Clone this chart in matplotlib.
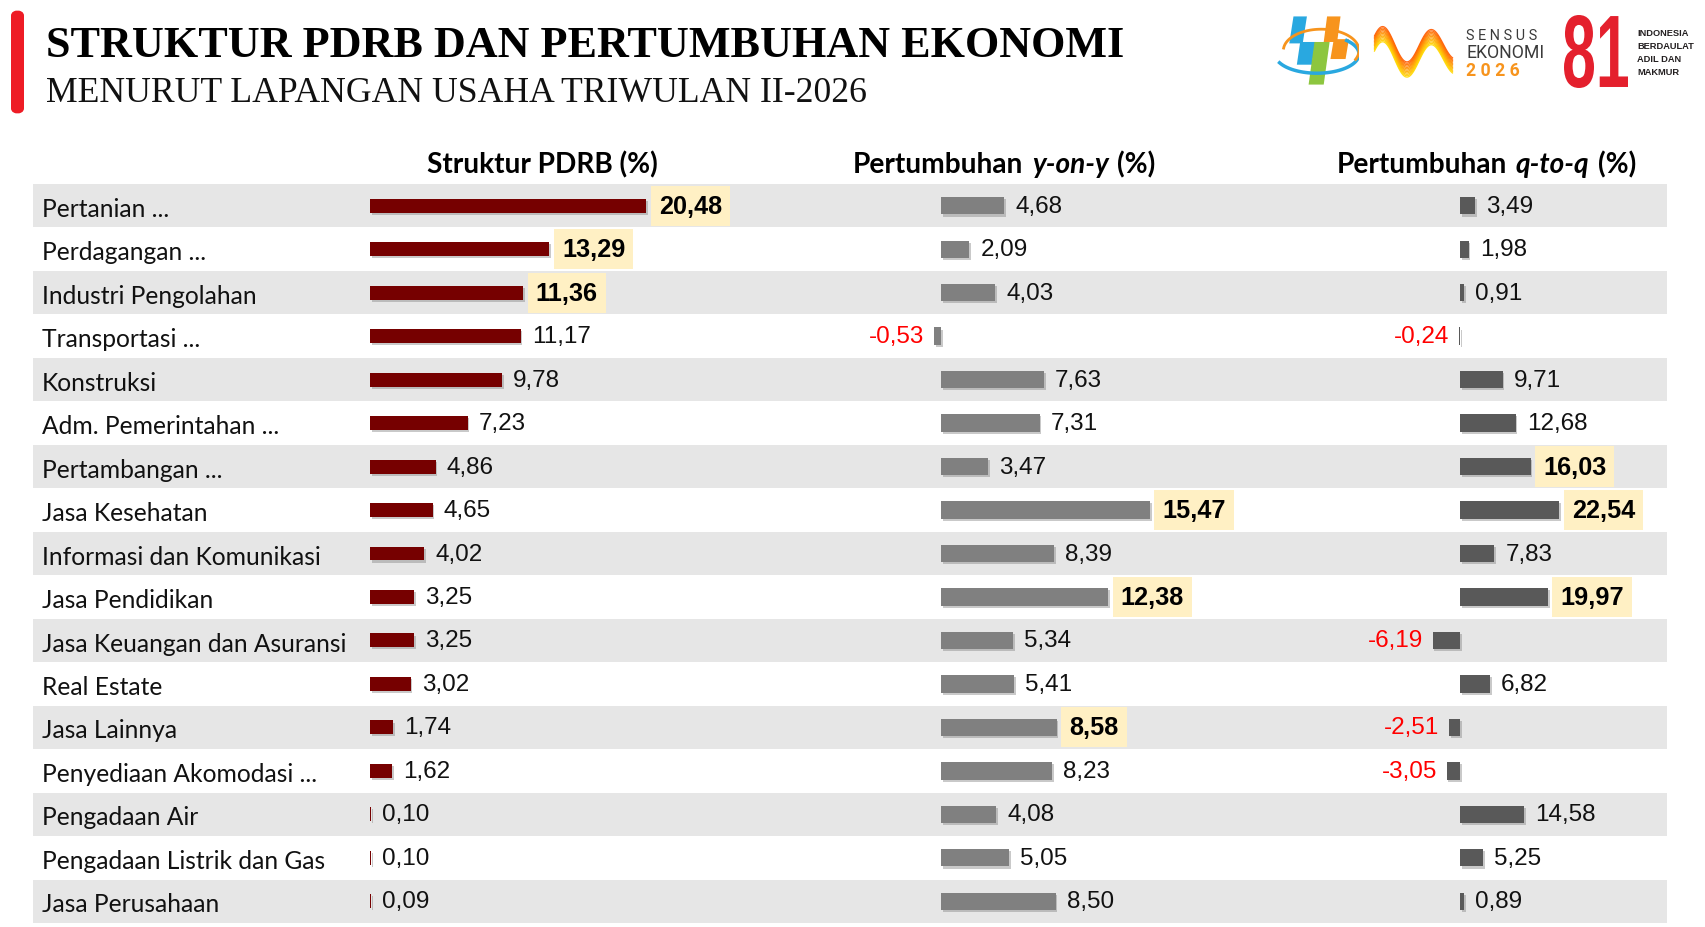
import numpy as np
import matplotlib
matplotlib.use("Agg")
import matplotlib.pyplot as plt
import matplotlib.patheffects as pe
from matplotlib import font_manager
from matplotlib.font_manager import FontProperties
from matplotlib.patches import Polygon, FancyBboxPatch, PathPatch
from matplotlib.textpath import TextPath
from matplotlib.transforms import blended_transform_factory

# data
sectors = [
    "Pertanian ...", "Perdagangan ...", "Industri Pengolahan", "Transportasi ...",
    "Konstruksi", "Adm. Pemerintahan ...", "Pertambangan ...", "Jasa Kesehatan",
    "Informasi dan Komunikasi", "Jasa Pendidikan", "Jasa Keuangan dan Asuransi",
    "Real Estate", "Jasa Lainnya", "Penyediaan Akomodasi ...", "Pengadaan Air",
    "Pengadaan Listrik dan Gas", "Jasa Perusahaan",
]
struktur = [20.48, 13.29, 11.36, 11.17, 9.78, 7.23, 4.86, 4.65, 4.02, 3.25, 3.25,
            3.02, 1.74, 1.62, 0.10, 0.10, 0.09]
yoy = [4.68, 2.09, 4.03, -0.53, 7.63, 7.31, 3.47, 15.47, 8.39, 12.38, 5.34,
       5.41, 8.58, 8.23, 4.08, 5.05, 8.50]
qtq = [3.49, 1.98, 0.91, -0.24, 9.71, 12.68, 16.03, 22.54, 7.83, 19.97, -6.19,
       6.82, -2.51, -3.05, 14.58, 5.25, 0.89]

title = "STRUKTUR PDRB DAN PERTUMBUHAN EKONOMI"
subtitle = "MENURUT LAPANGAN USAHA TRIWULAN II-2026"

installed = {f.name for f in font_manager.fontManager.ttflist}
NARROW = "Liberation Sans Narrow" if "Liberation Sans Narrow" in installed else "Liberation Sans"
SANS = "Lato"
SERIF = "Liberation Serif"

W, H = 1705, 928
fig = plt.figure(figsize=(W / 100, H / 100), dpi=100)
fig.patch.set_facecolor("white")
renderer = fig.canvas.get_renderer()


def ax_px(x0, y0, x1, y1):
    # axes placed with pixel box measured from the top-left corner
    return fig.add_axes([x0 / W, 1 - y1 / H, (x1 - x0) / W, (y1 - y0) / H])


def fit(t, target_w):
    w = t.get_window_extent(renderer).width
    t.set_fontsize(t.get_fontsize() * target_w / w)
    return t.get_fontsize()


def size_for(text, target_w, **kw):
    probe = fig.text(0, 0, text, fontsize=14, **kw)
    s = fit(probe, target_w)
    probe.remove()
    return s


n = len(sectors)
rows = np.arange(n)
TOP, BOT = 185, 924

# striped background
bg = ax_px(33, TOP, 1667, BOT)
bg.set_xlim(0, 1)
bg.set_ylim(n - 0.5, -0.5)
for i in range(0, n, 2):
    bg.axhspan(i - 0.5, i + 0.5, color="#e6e6e6", lw=0)
bg.axis("off")

# category labels
trans = blended_transform_factory(fig.transFigure, bg.transData)
cat_size = size_for("Jasa Keuangan dan Asuransi", 306, family=SANS)
for i, s in enumerate(sectors):
    bg.text(42 / W, i + 0.06, s, transform=trans, family=SANS, fontsize=cat_size,
            va="center", ha="left", color="#111111")

val_size = size_for("11,17", 59, family=NARROW)


def column(x0, x1, base, scale, values, color, h):
    ax = ax_px(x0, TOP, x1, BOT)
    ax.set_xlim((x0 - base) / scale, (x1 - base) / scale)
    ax.set_ylim(n - 0.5, -0.5)
    ax.axis("off")
    ax.patch.set_alpha(0)
    bars = ax.barh(rows, values, height=h, color=color, lw=0)
    for b in bars:
        b.set_path_effects([pe.SimplePatchShadow(offset=(1.2, -1.5), shadow_rgbFace="#888888", alpha=0.45),
                            pe.Normal()])
    top3 = set(np.argsort(values)[-3:])
    for i, v in enumerate(values):
        txt = f"{v:.2f}".replace(".", ",")
        if v < 0:
            ax.annotate(txt, (v, i), xytext=(-7, 0), textcoords="offset points",
                        ha="right", va="center", color="#ff0000",
                        family=NARROW, fontsize=val_size, annotation_clip=False)
        elif i in top3:
            ax.annotate(txt, (v, i), xytext=(9, 0), textcoords="offset points",
                        ha="left", va="center", color="black", fontweight="bold",
                        family=NARROW, fontsize=val_size * 1.04, annotation_clip=False,
                        bbox=dict(boxstyle="square,pad=0.32", fc="#fff0c4", ec="none"))
        else:
            ax.annotate(txt, (v, i), xytext=(8, 0), textcoords="offset points",
                        ha="left", va="center", color="#111111",
                        family=NARROW, fontsize=val_size, annotation_clip=False)
    return ax


column(360, 820, 370, 13.5, struktur, "#760000", 0.32)
column(820, 1300, 941, 13.5, yoy, "#808080", 0.40)
column(1300, 1690, 1460, 4.4, qtq, "#595959", 0.40)

# column headers
HEAD_Y = 1 - 165 / H
HS = size_for("Struktur PDRB (%)", 233, family=SANS, fontweight="bold")


def header(x, parts):
    t = fig.text(x / W, HEAD_Y, parts[0][0], family=SANS, fontsize=HS,
                 fontweight="bold", style=parts[0][1], va="center", ha="left")
    for txt, st, gap in parts[1:]:
        t = plt.annotate(txt, xy=(1, 0), xycoords=t, xytext=(gap, 0),
                         textcoords="offset points", family=SANS, fontsize=HS,
                         fontweight="bold", style=st, va="bottom", ha="left")


header(427, [("Struktur PDRB (%)", "normal")])
header(853, [("Pertumbuhan", "normal"), ("y-on-y", "italic", 6), ("(%)", "normal", 6)])
header(1337, [("Pertumbuhan", "normal"), ("q-to-q", "italic", 6), ("(%)", "normal", 6)])

# title block
fig.patches.append(FancyBboxPatch((11 / W, 1 - 115 / H), 13 / W, 104 / H,
                                  boxstyle="round,pad=0,rounding_size=0.006",
                                  transform=fig.transFigure, fc="#ee1c25", ec="none"))
t1 = fig.text(46 / W, 1 - 57 / H, title, family=SERIF, fontweight="bold",
              fontsize=34, va="baseline", ha="left", color="black")
fit(t1, 1078)
t2 = fig.text(46 / W, 1 - 102 / H, subtitle, family=SERIF, fontsize=26,
              va="baseline", ha="left", color="#111111")
fit(t2, 821)

# logos (rough sketches)
lg = ax_px(1275, 16, 1359, 87)
lg.set_xlim(0, 1)
lg.set_ylim(0, 1)
lg.axis("off")
th = np.linspace(0.15 * np.pi, 1.25 * np.pi, 60)
lg.plot(0.5 + 0.5 * np.cos(th + np.pi), 0.45 + 0.27 * np.sin(th + np.pi), color="#29a8e0", lw=2.5)
lg.plot(0.55 + 0.45 * np.cos(th - 0.9), 0.5 + 0.3 * np.sin(th - 0.9), color="#f7941d", lw=2)
for pts, c in [
    ([(0.22, 0.98), (0.38, 0.98), (0.33, 0.6), (0.17, 0.6)], "#29a8e0"),
    ([(0.30, 0.62), (0.48, 0.62), (0.44, 0.30), (0.26, 0.30)], "#29a8e0"),
    ([(0.62, 0.98), (0.78, 0.98), (0.74, 0.62), (0.58, 0.62)], "#f7941d"),
    ([(0.70, 0.66), (0.88, 0.66), (0.84, 0.38), (0.66, 0.38)], "#f7941d"),
    ([(0.47, 0.62), (0.65, 0.62), (0.58, 0.02), (0.40, 0.02)], "#8dc63f"),
]:
    lg.add_patch(Polygon(pts, closed=True, fc=c, ec="none"))

rb = ax_px(1372, 22, 1455, 85)
rb.set_xlim(0, 1)
rb.set_ylim(0, 1)
rb.axis("off")
tt = np.linspace(0, 1, 80)
for k in range(12):
    d = k * 0.022
    xs = 0.03 + 0.94 * tt
    ys = 0.62 + 0.3 * np.sin(tt * 3.2 * np.pi + 0.5) * (1 - 0.25 * tt) - d
    rb.plot(xs, ys, color=plt.cm.autumn(0.35 + k * 0.045), lw=0.9, alpha=0.9)

sens = size_for("EKONOMI", 78, family="Roboto")
fig.text(1466 / W, 1 - 40 / H, "S E N S U S", family="Roboto", fontsize=sens * 0.82, color="#3a3a3a", va="baseline")
fig.text(1466 / W, 1 - 58 / H, "EKONOMI", family="Roboto", fontsize=sens, color="#3a3a3a", va="baseline")
fig.text(1466 / W, 1 - 76 / H, "2 0 2 6", family="Roboto", fontsize=sens, color="#f7941d",
         fontweight="bold", va="baseline")

# "81" squeezed into its box
p81 = TextPath((0, 0), "81", size=50, prop=FontProperties(family=NARROW, weight="bold"))
ext = p81.get_extents()
a81 = ax_px(1564, 16, 1628, 89)
a81.set_xlim(ext.x0, ext.x1)
a81.set_ylim(ext.y0, ext.y1)
a81.axis("off")
a81.add_patch(PathPatch(p81, fc="#e4202d", ec="none"))

ind = size_for("BERDAULAT", 57, family=NARROW, fontweight="bold")
for j, w in enumerate(["INDONESIA", "BERDAULAT", "ADIL DAN", "MAKMUR"]):
    fig.text(1637 / W, 1 - (36 + 13 * j) / H, w, family=NARROW, fontweight="bold",
             fontsize=ind, color="#231f20", va="baseline")

fig.savefig("out.png", dpi=100, facecolor="white")
